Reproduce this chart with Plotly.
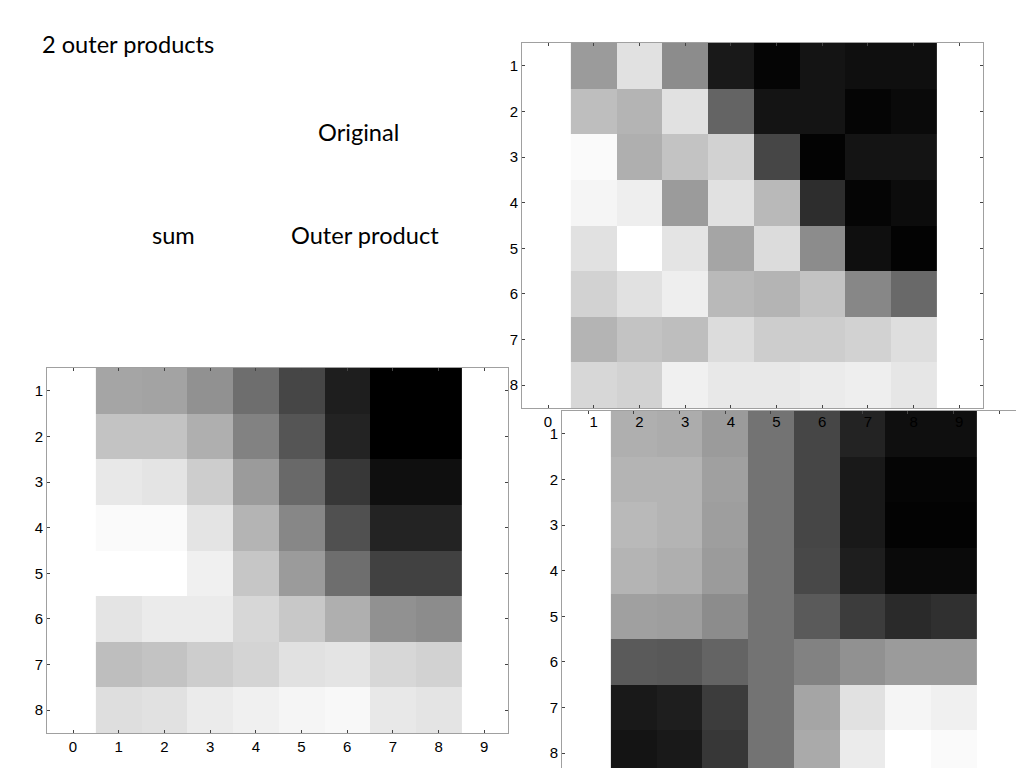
import plotly.graph_objects as go

# Grey levels (0 = black, 255 = white); rows 1..8, columns 1..8
cols = [1, 2, 3, 4, 5, 6, 7, 8]
rows = [1, 2, 3, 4, 5, 6, 7, 8]

original = [
    [155, 225, 140, 25, 5, 20, 15, 15],
    [190, 180, 225, 100, 20, 20, 5, 10],
    [250, 175, 195, 210, 70, 3, 20, 20],
    [245, 238, 155, 225, 185, 45, 5, 12],
    [225, 255, 228, 165, 220, 140, 15, 3],
    [210, 225, 238, 185, 180, 195, 135, 105],
    [180, 195, 190, 220, 205, 205, 210, 222],
    [215, 210, 240, 232, 232, 235, 238, 230],
]

sum_img = [
    [165, 163, 145, 110, 70, 30, 0, 0],
    [195, 195, 175, 130, 85, 35, 0, 0],
    [232, 228, 205, 155, 105, 55, 15, 15],
    [250, 250, 228, 180, 135, 80, 35, 35],
    [255, 255, 240, 198, 155, 110, 65, 65],
    [228, 235, 235, 215, 200, 175, 145, 140],
    [190, 195, 205, 212, 225, 228, 215, 210],
    [222, 225, 235, 240, 245, 248, 232, 228],
]

outer_img = [
    [175, 172, 155, 115, 70, 35, 15, 15],
    [180, 180, 160, 115, 70, 25, 5, 5],
    [185, 180, 158, 115, 70, 25, 3, 3],
    [180, 175, 155, 115, 72, 30, 10, 10],
    [160, 158, 140, 115, 90, 60, 42, 48],
    [90, 88, 100, 115, 130, 145, 155, 155],
    [25, 30, 60, 115, 165, 225, 245, 240],
    [20, 25, 55, 115, 170, 235, 255, 250],
]

x_ticks = [0, 1, 2, 3, 4, 5, 6, 7, 8, 9]
y_ticks = [1, 2, 3, 4, 5, 6, 7, 8]

W, H = 1024, 768
OFF = 8  # page body margin
gray = [[0, "rgb(0,0,0)"], [1, "rgb(255,255,255)"]]

fig = go.Figure()

def add_map(z, xa, ya):
    fig.add_trace(go.Heatmap(
        x=cols, y=rows, z=z, colorscale=gray, zmin=0, zmax=255,
        showscale=False, xaxis=xa, yaxis=ya, hoverinfo="skip"))

# order: sum, outer product, original (original drawn last so its labels sit on top)
add_map(sum_img, "x", "y")
add_map(outer_img, "x2", "y2")
add_map(original, "x3", "y3")

def px_dom_x(a, b):
    return [(a - OFF) / W, (b - OFF) / W]

def px_dom_y(top, bottom):
    return [max(0, 1 - (bottom - OFF) / H), 1 - (top - OFF) / H]

axis_common = dict(
    showgrid=False, zeroline=False, showline=True, linecolor="#a0a0a0",
    linewidth=1, mirror="ticks", ticks="inside", ticklen=3, tickwidth=1,
    tickcolor="#444444", tickfont=dict(family="Liberation Sans, Arial", size=15, color="#000"),
)

xr = [-0.57, 9.52]

fig.update_layout(
    width=W, height=H, margin=dict(l=0, r=0, t=0, b=0),
    paper_bgcolor="white", plot_bgcolor="white", showlegend=False,
    xaxis=dict(domain=px_dom_x(47, 508), range=xr, tickvals=x_ticks, anchor="y", **axis_common),
    yaxis=dict(domain=px_dom_y(368, 733), range=[8.5, 0.5], tickvals=y_ticks, anchor="x", **axis_common),
    xaxis2=dict(domain=px_dom_x(562, 1023), range=xr, tickvals=x_ticks, anchor="y2",
                showticklabels=False, **axis_common),
    yaxis2=dict(domain=px_dom_y(411, 776), range=[8.5, 0.5], tickvals=y_ticks, anchor="x2", **axis_common),
    xaxis3=dict(domain=px_dom_x(522, 983), range=xr, tickvals=x_ticks, anchor="y3", **axis_common),
    yaxis3=dict(domain=px_dom_y(43, 408), range=[8.5, 0.5], tickvals=y_ticks, anchor="x3", **axis_common),
)

text_font = dict(family="Lato, Noto Sans, sans-serif", size=23.6, color="#000")
labels = [
    ("2 outer products", 40, 44, "left"),
    ("Original", 358, 132, "center"),
    ("sum", 173, 235, "center"),
    ("Outer product", 365, 235, "center"),
]
for txt, xp, yp, anc in labels:
    fig.add_annotation(text=txt, x=(xp - OFF) / W, y=1 - (yp - OFF) / H, xref="paper", yref="paper",
                       xanchor=anc, yanchor="middle", showarrow=False, font=text_font)

fig.write_html("out.html")
